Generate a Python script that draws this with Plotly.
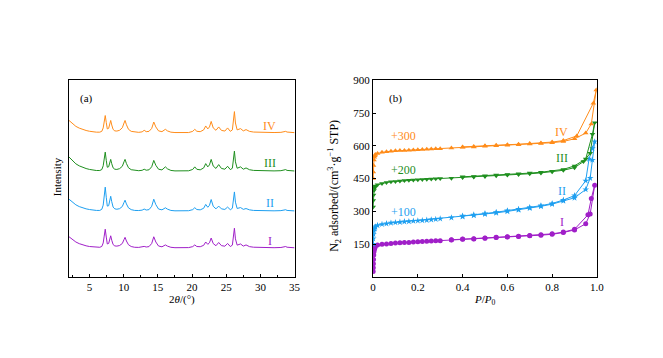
import plotly.graph_objects as go

# ---------------- Panel (a): XRD ----------------
two_theta = [2.0, 2.5, 3.0, 3.5, 4.0, 4.5, 5.0, 5.5, 6.0, 6.5,
             6.8, 7.0, 7.15, 7.3, 7.45, 7.6, 7.8, 7.95, 8.1, 8.25,
             8.45, 8.7, 9.0, 9.4, 9.8, 10.05, 10.2, 10.4, 10.7, 11.1,
             11.6, 12.2, 12.7, 13.0, 13.3, 13.7, 14.1, 14.4, 14.7, 15.1,
             15.6, 15.9, 16.1, 16.4, 16.9, 17.5, 18.5, 19.5, 20.1, 20.4,
             20.7, 21.2, 21.7, 22.0, 22.3, 22.55, 22.8, 23.1, 23.5, 23.9,
             24.3, 24.8, 25.2, 25.6, 25.9, 26.05, 26.2, 26.35, 26.6, 27.1,
             27.5, 27.9, 28.4, 29.0, 30.0, 31.0, 32.0, 33.0, 33.5, 33.7,
             33.9, 34.5, 35.0]

xrd_I = [11.3, 8.3, 6.0, 4.3, 3.0, 2.1, 1.4, 0.9, 0.6, 0.6,
         1.5, 5.0, 12.0, 19.0, 11.0, 4.0, 4.5, 8.6, 12.3, 7.8,
         3.4, 2.0, 1.8, 2.4, 4.5, 8.5, 10.7, 7.0, 3.2, 1.4,
         0.6, 0.5, 0.8, 1.5, 0.9, 1.3, 4.5, 11.3, 6.0, 1.9,
         1.1, 2.2, 3.0, 1.8, 0.6, 0.2, 0.0, 0.3, 1.3, 3.0,
         1.4, 1.2, 2.6, 6.0, 3.6, 5.2, 10.0, 4.4, 2.2, 5.5,
         2.3, 1.7, 4.5, 1.4, 2.8, 9.2, 20.0, 9.2, 2.8, 4.0,
         1.8, 3.0, 1.3, 0.7, 0.3, 0.1, 0.2, 0.4, 0.9, 1.4,
         0.7, 0.2, 0.1]
xrd_II = [12.0, 8.8, 6.3, 4.5, 3.2, 2.2, 1.5, 0.9, 0.6, 0.6,
          1.8, 6.0, 15.0, 24.3, 14.0, 5.0, 5.4, 11.0, 15.0, 9.5,
          4.0, 2.2, 1.8, 2.4, 4.6, 8.8, 11.0, 7.2, 3.2, 1.4,
          0.6, 0.5, 0.9, 2.0, 1.0, 1.4, 4.8, 12.0, 6.5, 2.0,
          1.2, 2.4, 3.3, 1.9, 0.6, 0.2, 0.0, 0.3, 1.4, 3.4,
          1.5, 1.2, 2.8, 6.7, 3.8, 5.8, 11.7, 4.8, 2.2, 5.0,
          2.2, 1.6, 4.0, 1.3, 2.8, 9.0, 19.4, 9.0, 2.6, 3.5,
          1.7, 2.5, 1.2, 0.6, 0.3, 0.1, 0.2, 0.4, 0.8, 1.3,
          0.6, 0.2, 0.1]
xrd_III = [14.4, 10.5, 7.5, 5.4, 3.8, 2.7, 1.8, 1.1, 0.7, 0.7,
           1.7, 5.5, 12.5, 19.4, 11.0, 4.0, 4.5, 8.8, 12.0, 7.6,
           3.4, 2.0, 1.8, 2.6, 5.0, 9.6, 12.0, 7.8, 3.5, 1.5,
           0.7, 0.5, 0.9, 2.0, 1.0, 1.4, 4.5, 11.0, 6.0, 2.0,
           1.3, 3.0, 4.4, 2.4, 0.8, 0.3, 0.0, 0.4, 1.8, 4.4,
           1.9, 1.4, 3.3, 7.7, 4.4, 6.4, 12.0, 5.2, 2.8, 6.7,
           2.8, 2.0, 5.0, 1.6, 3.0, 9.5, 20.4, 9.5, 3.0, 4.4,
           2.0, 3.3, 1.5, 0.8, 0.4, 0.2, 0.3, 0.5, 1.0, 1.6,
           0.8, 0.3, 0.2]
xrd_IV = [12.6, 9.2, 6.6, 4.8, 3.4, 2.4, 1.6, 1.0, 0.7, 0.7,
          1.6, 5.0, 11.5, 17.6, 10.5, 4.0, 4.6, 9.0, 12.6, 8.0,
          3.5, 2.0, 1.8, 2.6, 5.2, 10.0, 12.6, 8.2, 3.6, 1.5,
          0.7, 0.5, 1.0, 2.6, 1.2, 1.5, 4.5, 11.0, 6.0, 2.0,
          1.2, 2.5, 3.6, 2.0, 0.7, 0.3, 0.0, 0.3, 1.5, 3.6,
          1.6, 1.2, 3.0, 7.0, 4.0, 6.0, 11.6, 5.0, 2.6, 6.0,
          2.5, 1.8, 5.0, 1.5, 3.0, 10.0, 21.6, 10.0, 3.0, 4.3,
          2.0, 3.3, 1.5, 0.8, 0.4, 0.2, 0.3, 0.5, 1.0, 1.5,
          0.8, 0.3, 0.2]
xrd_offsets = [29.5, 67.0, 107.5, 146.5]

names = ["I", "II", "III", "IV"]
colors = ["#a01fc8", "#1e9ff0", "#1f8f1f", "#ff8c1a"]

# ---------------- Panel (b): N2 isotherms ----------------
p_I = [0.0005, 0.001, 0.0015, 0.002, 0.003, 0.004, 0.006, 0.008, 0.01, 0.02,
       0.04, 0.06, 0.08, 0.1, 0.12, 0.14, 0.16, 0.18, 0.2, 0.22,
       0.24, 0.26, 0.28, 0.3, 0.35, 0.4, 0.45, 0.5, 0.55, 0.6,
       0.65, 0.7, 0.75, 0.8, 0.85, 0.9, 0.95, 0.97, 0.99,
       0.975, 0.96, 0.9, 0.85, 0.8, 0.75, 0.7, 0.65, 0.6, 0.55,
       0.5, 0.45, 0.4, 0.35]
v_I = [25, 42, 60, 80, 100, 115, 125, 132, 139, 146,
       149, 151, 153, 155, 156, 157, 158, 160, 161, 162,
       163, 164, 165, 166, 169, 172, 174, 177, 180, 183,
       185, 188, 191, 195, 203, 215, 243, 288, 419,
       359, 284, 218, 205, 197, 193, 189, 186, 184, 181,
       178, 175, 173, 170]

p_II = [0.0005, 0.001, 0.002, 0.004, 0.006, 0.008, 0.01, 0.02, 0.04, 0.06,
        0.08, 0.1, 0.12, 0.14, 0.16, 0.18, 0.2, 0.22, 0.24, 0.26,
        0.28, 0.3, 0.35, 0.4, 0.45, 0.5, 0.55, 0.6, 0.65, 0.7,
        0.75, 0.8, 0.85, 0.9, 0.95, 0.97, 0.98, 0.99,
        0.98, 0.965, 0.95, 0.9, 0.85, 0.8, 0.75, 0.7, 0.65, 0.6,
        0.55, 0.5, 0.45, 0.4]
v_II = [150, 175, 195, 210, 220, 226, 230, 236, 241, 244,
        247, 249, 251, 253, 254, 256, 257, 258, 260, 262,
        264, 266, 271, 276, 281, 287, 293, 300, 307, 315,
        323, 333, 348, 362, 400, 452, 535, 619,
        588, 540, 440, 372, 352, 336, 326, 318, 310, 303,
        296, 290, 284, 279]

p_III = [0.0005, 0.001, 0.002, 0.004, 0.006, 0.008, 0.01, 0.02, 0.04, 0.06,
         0.08, 0.1, 0.12, 0.14, 0.16, 0.18, 0.2, 0.22, 0.24, 0.26,
         0.28, 0.3, 0.35, 0.4, 0.45, 0.5, 0.55, 0.6, 0.65, 0.7,
         0.75, 0.8, 0.85, 0.9, 0.94, 0.97, 0.99,
         0.98, 0.95, 0.9, 0.85, 0.8, 0.75, 0.7, 0.65, 0.6, 0.55,
         0.5, 0.45, 0.4]
v_III = [320, 350, 375, 395, 405, 411, 416, 422, 428, 432,
         435, 437, 439, 441, 442, 444, 445, 446, 447, 448,
         449, 450, 452, 455, 457, 460, 463, 466, 469, 472,
         476, 481, 488, 500, 528, 566, 705,
         653, 540, 508, 492, 484, 479, 475, 472, 469, 466,
         463, 460, 458]

p_IV = [0.0005, 0.001, 0.002, 0.004, 0.006, 0.008, 0.01, 0.02, 0.04, 0.06,
        0.08, 0.1, 0.12, 0.14, 0.16, 0.18, 0.2, 0.22, 0.24, 0.26,
        0.28, 0.3, 0.35, 0.4, 0.45, 0.5, 0.55, 0.6, 0.65, 0.7,
        0.75, 0.8, 0.85, 0.9, 0.95, 0.975, 0.997,
        0.984, 0.91, 0.85, 0.8, 0.75, 0.7, 0.65, 0.6, 0.55, 0.5,
        0.45, 0.4]
v_IV = [450, 480, 510, 535, 548, 555, 560, 565, 570, 573,
        575, 577, 578, 579, 580, 581, 582, 583, 584, 585,
        586, 587, 590, 593, 595, 598, 600, 603, 605, 608,
        611, 614, 620, 632, 658, 700, 855,
        795, 645, 624, 617, 613, 610, 607, 605, 602, 600,
        597, 595]

iso_p = [p_I, p_II, p_III, p_IV]
iso_v = [v_I, v_II, v_III, v_IV]
symbols = ["circle", "star", "triangle-down", "triangle-up"]
msizes = [5, 5, 5, 5]
offset_labels = ["+100", "+200", "+300"]

FONT = "Liberation Serif, Times New Roman, serif"

fig = go.Figure()

xrd = [xrd_I, xrd_II, xrd_III, xrd_IV]
for i in range(4):
    fig.add_trace(go.Scatter(
        x=two_theta, y=[v + xrd_offsets[i] for v in xrd[i]],
        mode="lines", line=dict(color=colors[i], width=1),
        xaxis="x", yaxis="y", showlegend=False, name=names[i]))

for i in range(4):
    fig.add_trace(go.Scatter(
        x=iso_p[i], y=iso_v[i], mode="lines+markers",
        line=dict(color=colors[i], width=1),
        marker=dict(symbol=symbols[i], size=msizes[i], color=colors[i],
                    line=dict(width=0)),
        xaxis="x2", yaxis="y2", showlegend=False, name=names[i]))

axis_common = dict(showline=True, linecolor="black", linewidth=1, mirror=True,
                   showgrid=False, zeroline=False,
                   tickcolor="black", ticklen=3, tickwidth=1,
                   tickfont=dict(family=FONT, size=11, color="black"))

fig.update_layout(
    width=663, height=358,
    margin=dict(l=0, r=0, t=0, b=0),
    paper_bgcolor="white", plot_bgcolor="white",
    font=dict(family=FONT, size=11, color="black"),
    xaxis=dict(domain=[0.1011, 0.4465], range=[2, 35], ticks="inside",
               tickvals=[5, 10, 15, 20, 25, 30, 35],
               minor=dict(tickvals=[2.5, 7.5, 12.5, 17.5, 22.5, 27.5, 32.5], ticks="inside",
                          ticklen=2, tickcolor="black"),
               anchor="y", **axis_common),
    yaxis=dict(domain=[0.2304, 0.7891], range=[0, 200], showticklabels=False,
               ticks="", anchor="x", **axis_common),
    xaxis2=dict(domain=[0.5667, 0.9095], range=[0, 1.0], ticks="inside",
                tickvals=[0, 0.2, 0.4, 0.6, 0.8, 1.0],
                ticktext=["0", "0.2", "0.4", "0.6", "0.8", "1.0"],
                anchor="y2", **axis_common),
    yaxis2=dict(domain=[0.2304, 0.7891], range=[0, 900], ticks="inside",
                tickvals=[150, 300, 450, 600, 750, 900],
                anchor="x2", **axis_common),
)

C = dict(xanchor="center", yanchor="middle", showarrow=False)
ann = []
# panel (a) labels
ann.append(dict(x=4.6, y=181, xref="x", yref="y", text="(a)",
                font=dict(family=FONT, size=11, color="black"), **C))
xrd_label_y = [36.7, 75, 115.7, 153.3]
for i in range(4):
    ann.append(dict(x=31.35, y=xrd_label_y[i], xref="x", yref="y", text=names[i],
                    font=dict(family=FONT, size=12, color=colors[i]), **C))
# panel (b) labels
ann.append(dict(x=0.1, y=818, xref="x2", yref="y2", text="(b)",
                font=dict(family=FONT, size=11, color="black"), **C))
iso_label_y = [251, 394, 544, 665]
for i in range(4):
    ann.append(dict(x=0.843, y=iso_label_y[i], xref="x2", yref="y2", text=names[i],
                    font=dict(family=FONT, size=12, color=colors[i]), **C))
off_y = [299, 491, 644]
for i in range(3):
    ann.append(dict(x=0.137, y=off_y[i], xref="x2", yref="y2", text=offset_labels[i],
                    font=dict(family=FONT, size=12, color=colors[i + 1]), **C))
# axis titles
ann.append(dict(x=181.5 / 663, y=(358 - 298) / 358, xref="paper", yref="paper",
                text="2<i>θ</i>/(°)", font=dict(family=FONT, size=11, color="black"), **C))
ann.append(dict(x=55 / 663, y=(358 - 174) / 358, xref="paper", yref="paper",
                text="Intensity", textangle=-90,
                font=dict(family=FONT, size=11, color="black"), **C))
ann.append(dict(x=489 / 663, y=(358 - 299) / 358, xref="paper", yref="paper",
                text="<i>P</i>/<i>P</i><sub>0</sub>",
                font=dict(family=FONT, size=11, color="black"), **C))
ann.append(dict(x=337 / 663, y=(358 - 183) / 358, xref="paper", yref="paper",
                text="N<sub>2</sub> adsorbed/(cm<sup>3</sup>·g<sup>−1</sup> STP)",
                textangle=-90, font=dict(family=FONT, size=12, color="black"), **C))
fig.update_layout(annotations=ann)

fig.write_html("out.html", config={"displayModeBar": False},
               post_script="document.body.style.margin='0';document.body.style.overflow='hidden';")
